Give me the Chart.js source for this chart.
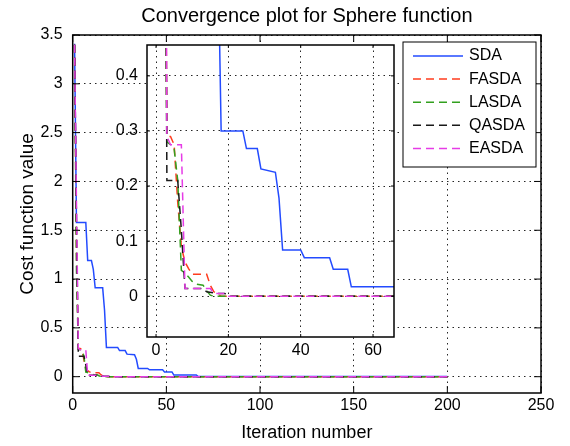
<!DOCTYPE html>
<html lang="en">
<head>
<meta charset="UTF-8">
<title>Convergence plot for Sphere function</title>
<script src="https://cdn.jsdelivr.net/npm/chart.js"></script>
<style>
  body { margin: 0; background: #fff; }
  .wrap { position: relative; width: 570px; height: 446px; }
  #main { position: absolute; left: 0; top: 0; }
  #inset { position: absolute; left: 90px; top: 25px; }
</style>
</head>
<body>
<div class="wrap">
  <canvas id="main" width="570" height="446"></canvas>
  <canvas id="inset" width="330" height="345"></canvas>
</div>
<script>
// corner points: iteration number and cost value
const sdaIter = [1, 2, 7, 8, 10, 11, 12, 16, 17, 18, 24, 25, 28, 29, 33, 34, 35, 40, 41, 48, 49, 53, 54, 66, 67, 200];
const sdaCost = [3.41, 1.58, 1.58, 1.19, 1.19, 1.10, 0.91, 0.91, 0.68, 0.30, 0.30, 0.268, 0.268, 0.231, 0.225, 0.178, 0.084, 0.084, 0.070, 0.070, 0.049, 0.049, 0.017, 0.017, 0.001, 0.001];

const fasdaIter = [1, 2, 3, 4, 5, 6, 7, 8, 9, 10, 14, 15, 16, 17, 18, 200];
const fasdaCost = [3.40, 1.30, 0.29, 0.29, 0.275, 0.17, 0.09, 0.062, 0.05, 0.04, 0.04, 0.02, 0.008, 0.004, 0, 0];

const lasdaIter = [1, 2, 3, 4, 5, 6, 7, 8, 9, 10, 11, 13, 14, 15, 16, 200];
const lasdaCost = [3.40, 1.10, 0.28, 0.275, 0.268, 0.21, 0.047, 0.042, 0.035, 0.027, 0.022, 0.02, 0.01, 0.002, 0, 0];

const qasdaIter = [1, 2, 3, 6, 7, 8, 13, 14, 17, 19, 20, 200];
const qasdaCost = [3.40, 1.60, 0.21, 0.21, 0.12, 0.014, 0.014, 0.008, 0.005, 0.005, 0, 0];

const easdaIter = [1, 2, 3, 4, 7, 8, 15, 16, 19, 20, 200];
const easdaCost = [3.40, 1.80, 0.29, 0.275, 0.275, 0.014, 0.014, 0.005, 0.005, 0, 0];

const seriesNames = ['SDA', 'FASDA', 'LASDA', 'QASDA', 'EASDA'];
const seriesIters = [sdaIter, fasdaIter, lasdaIter, qasdaIter, easdaIter];
const seriesCosts = [sdaCost, fasdaCost, lasdaCost, qasdaCost, easdaCost];

const mainXTicks = [0, 50, 100, 150, 200, 250];
const mainYTicks = [0, 0.5, 1, 1.5, 2, 2.5, 3, 3.5];
const insetXTicks = [0, 20, 40, 60];
const insetYTicks = [0, 0.1, 0.2, 0.3, 0.4];

const colors = ['rgb(35,75,255)', 'rgb(255,60,30)', 'rgb(50,160,30)', 'rgb(25,25,25)', 'rgb(230,60,230)'];
const dashes = [[], [8, 5], [8, 5], [8, 5], [8, 5]];
const FONT = 'Liberation Sans';

function makeDatasets() {
    return seriesNames.map((name, i) => ({
        label: name,
        data: seriesIters[i].map((x, k) => ({ x: x, y: seriesCosts[i][k] })),
        borderColor: colors[i],
        borderDash: dashes[i],
        borderWidth: 1.5,
        pointRadius: 0,
        tension: 0,
        fill: false,
        order: seriesNames.length - i
    }));
}

const fmt = v => String(+Number(v).toFixed(2));

// white plot area, black box and inward ticks on all four sides
const framePlugin = {
    id: 'frame',
    beforeDraw(chart, args, opts) {
        if (!opts.fill) return;
        const a = chart.chartArea;
        chart.ctx.save();
        chart.ctx.fillStyle = opts.fill;
        chart.ctx.fillRect(a.left, a.top, a.right - a.left, a.bottom - a.top);
        chart.ctx.restore();
    },
    afterDraw(chart, args, opts) {
        const ctx = chart.ctx;
        const a = chart.chartArea;
        const x = chart.scales.x, y = chart.scales.y;
        const t = opts.tick;
        ctx.save();
        ctx.strokeStyle = '#000';
        ctx.lineWidth = 1;
        ctx.beginPath();
        x.ticks.forEach(tk => {
            const px = x.getPixelForValue(tk.value);
            ctx.moveTo(px, a.bottom); ctx.lineTo(px, a.bottom - t);
            ctx.moveTo(px, a.top); ctx.lineTo(px, a.top + t);
        });
        y.ticks.forEach(tk => {
            const py = y.getPixelForValue(tk.value);
            ctx.moveTo(a.left, py); ctx.lineTo(a.left + t, py);
            ctx.moveTo(a.right, py); ctx.lineTo(a.right - t, py);
        });
        ctx.stroke();
        ctx.lineWidth = opts.width;
        ctx.strokeRect(a.left, a.top, a.right - a.left, a.bottom - a.top);
        ctx.restore();
    }
};

// boxed legend in the top right corner of the main axes
const boxLegend = {
    id: 'boxLegend',
    afterDraw(chart) {
        const ctx = chart.ctx;
        const a = chart.chartArea;
        const w = 133, h = 125;
        const left = a.right - 5 - w, top = a.top + 7;
        ctx.save();
        ctx.fillStyle = '#fff';
        ctx.fillRect(left, top, w, h);
        ctx.strokeStyle = '#000';
        ctx.lineWidth = 1;
        ctx.strokeRect(left, top, w, h);
        ctx.font = '16px "' + FONT + '"';
        ctx.textBaseline = 'middle';
        ctx.textAlign = 'left';
        chart.data.datasets.forEach((ds, i) => {
            const ry = top + 14 + i * 23.1;
            ctx.beginPath();
            ctx.setLineDash(ds.borderDash || []);
            ctx.strokeStyle = ds.borderColor;
            ctx.lineWidth = 1.5;
            ctx.moveTo(left + 10, ry);
            ctx.lineTo(left + 60, ry);
            ctx.stroke();
            ctx.setLineDash([]);
            ctx.fillStyle = '#000';
            ctx.fillText(ds.label, left + 66, ry);
        });
        ctx.restore();
    }
};

const gridStyle = { color: 'rgba(0,0,0,0.85)', lineWidth: 1, drawTicks: false };
const borderStyle = { display: false, dash: [1.5, 4] };
const tickFont = { family: FONT, size: 16 };

new Chart(document.getElementById('main'), {
    type: 'line',
    data: { datasets: makeDatasets() },
    plugins: [framePlugin, boxLegend],
    options: {
        responsive: false,
        animation: false,
        events: [],
        layout: { padding: { left: 0, right: 29, top: 0, bottom: 0 } },
        plugins: {
            legend: { display: false },
            tooltip: { enabled: false },
            title: {
                display: true,
                fullSize: false,
                text: 'Convergence plot for Sphere function',
                color: '#000',
                font: { family: FONT, size: 20, weight: 'normal' },
                padding: { top: 4.3, bottom: 6.7 }
            },
            frame: { tick: 7, width: 1.5 }
        },
        scales: {
            x: {
                type: 'linear',
                min: 0,
                max: 250,
                afterBuildTicks: s => { s.ticks = mainXTicks.map(v => ({ value: v })); },
                afterFit: s => { s.height = 53; },
                grid: gridStyle,
                border: borderStyle,
                ticks: { padding: 3, color: '#000', font: tickFont, callback: fmt, maxRotation: 0 },
                title: {
                    display: true,
                    text: 'Iteration number',
                    color: '#000',
                    font: { family: FONT, size: 18 },
                    padding: { top: 0, bottom: 1.7 }
                }
            },
            y: {
                type: 'linear',
                min: -0.167,
                max: 3.5,
                afterBuildTicks: s => { s.ticks = mainYTicks.map(v => ({ value: v })); },
                afterFit: s => { s.width = 72.7; },
                grid: gridStyle,
                border: borderStyle,
                ticks: { padding: 10, color: '#000', font: tickFont, callback: fmt },
                title: {
                    display: true,
                    text: 'Cost function value',
                    color: '#000',
                    font: { family: FONT, size: 19 },
                    padding: { top: 16, bottom: 0 }
                }
            }
        }
    }
});

// zoomed inset of the first iterations
new Chart(document.getElementById('inset'), {
    type: 'line',
    data: { datasets: makeDatasets() },
    plugins: [framePlugin],
    options: {
        responsive: false,
        animation: false,
        events: [],
        layout: { padding: { left: 0, right: 26, top: 20, bottom: 0 } },
        plugins: {
            legend: { display: false },
            tooltip: { enabled: false },
            frame: { tick: 3, width: 1.5, fill: '#fff' }
        },
        scales: {
            x: {
                type: 'linear',
                min: -2.5,
                max: 65.8,
                afterBuildTicks: s => { s.ticks = insetXTicks.map(v => ({ value: v })); },
                afterFit: s => { s.height = 33; },
                grid: gridStyle,
                border: borderStyle,
                ticks: { padding: 4, color: '#000', font: tickFont, callback: fmt, maxRotation: 0 }
            },
            y: {
                type: 'linear',
                min: -0.074,
                max: 0.456,
                afterBuildTicks: s => { s.ticks = insetYTicks.map(v => ({ value: v })); },
                afterFit: s => { s.width = 57; },
                grid: gridStyle,
                border: borderStyle,
                ticks: { padding: 9, color: '#000', font: tickFont, callback: fmt }
            }
        }
    }
});
</script>
</body>
</html>
